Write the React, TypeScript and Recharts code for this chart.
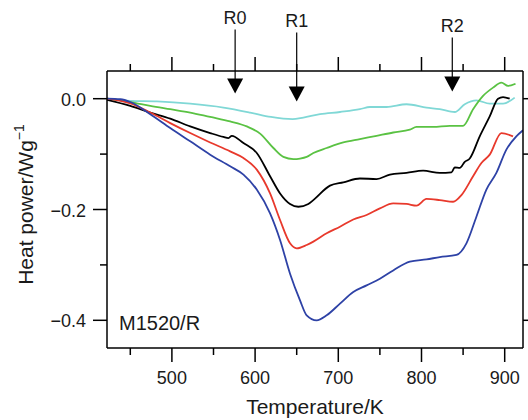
import React from 'react';
import { ComposedChart, Line, XAxis, YAxis, ReferenceDot, Label } from 'recharts';

const FONT = '"Liberation Sans", Arial, Helvetica, sans-serif';

// ---- axis ticks ----
const xTicks = [450, 500, 550, 600, 650, 700, 750, 800, 850, 900];
const xMajor = [500, 600, 700, 800, 900];
const yTicks = [-0.4, -0.3, -0.2, -0.1, 0];
const yMajor = [-0.4, -0.2, 0];

// ---- series (Temperature / K, Heat power / W g^-1) ----
const cyanT = [422, 450, 482, 522, 562, 594, 619, 645, 658, 678, 702, 726, 738, 758, 782, 806, 822, 840, 852, 866, 882, 898, 912];
const cyanV = [0, -0.004, -0.005, -0.009, -0.016, -0.025, -0.033, -0.037, -0.034, -0.028, -0.024, -0.019, -0.015, -0.015, -0.010, -0.016, -0.019, -0.024, -0.010, -0.003, -0.009, -0.009, 0.002];

const greenT = [422, 450, 474, 498, 522, 546, 570, 590, 606, 622, 634, 646, 654, 662, 670, 686, 706, 726, 746, 766, 786, 794, 814, 834, 850, 862, 874, 886, 896, 904, 913];
const greenV = [0, -0.006, -0.013, -0.019, -0.025, -0.033, -0.041, -0.050, -0.063, -0.089, -0.105, -0.109, -0.108, -0.105, -0.098, -0.089, -0.079, -0.073, -0.067, -0.061, -0.056, -0.051, -0.051, -0.049, -0.049, -0.019, 0.005, 0.020, 0.029, 0.023, 0.027];

const blackT = [422, 450, 474, 498, 522, 546, 562, 568, 572, 586, 602, 618, 630, 642, 652, 664, 670, 690, 706, 726, 746, 762, 782, 802, 822, 836, 840, 846, 852, 858, 870, 882, 892, 898, 906];
const blackV = [-0.002, -0.013, -0.025, -0.036, -0.050, -0.062, -0.069, -0.071, -0.067, -0.080, -0.098, -0.140, -0.171, -0.190, -0.195, -0.190, -0.183, -0.157, -0.151, -0.144, -0.145, -0.137, -0.134, -0.130, -0.134, -0.133, -0.124, -0.125, -0.114, -0.108, -0.068, -0.032, 0.0, 0.003, 0.0];

const redT = [422, 450, 474, 498, 522, 546, 570, 586, 602, 618, 630, 642, 650, 662, 670, 686, 702, 718, 734, 750, 766, 782, 794, 806, 822, 838, 848, 862, 872, 882, 896, 910];
const redV = [0, -0.0085, -0.025, -0.044, -0.062, -0.079, -0.095, -0.107, -0.128, -0.171, -0.219, -0.261, -0.270, -0.264, -0.258, -0.243, -0.231, -0.218, -0.210, -0.198, -0.189, -0.190, -0.193, -0.181, -0.183, -0.186, -0.174, -0.140, -0.116, -0.101, -0.062, -0.068];

const blueT = [422, 438, 450, 474, 498, 522, 546, 570, 586, 602, 618, 630, 642, 654, 662, 674, 686, 702, 718, 734, 750, 766, 786, 806, 822, 842, 854, 866, 878, 890, 902, 914, 922];
const blueV = [0, -0.001, -0.006, -0.028, -0.053, -0.077, -0.101, -0.122, -0.137, -0.164, -0.207, -0.255, -0.316, -0.364, -0.391, -0.400, -0.391, -0.370, -0.349, -0.337, -0.325, -0.310, -0.294, -0.290, -0.286, -0.282, -0.261, -0.213, -0.164, -0.134, -0.092, -0.068, -0.057];

// ---- annotations ----
const arrowNames = ['R0', 'R1', 'R2'];
const arrowT = [576, 650, 837];
const arrowTip = [0.0096, -0.0049, 0.0132];
const arrowLabelGap = [69, 74, 59];

const zip = (t: number[], v: number[]) => t.map((tt, i) => ({ t: tt, v: v[i] }));
const series = [
  { name: 'cyan', data: zip(cyanT, cyanV), color: '#80d8d6' },
  { name: 'green', data: zip(greenT, greenV), color: '#5ac243' },
  { name: 'black', data: zip(blackT, blackV), color: '#000000' },
  { name: 'red', data: zip(redT, redV), color: '#e8392c' },
  { name: 'blue', data: zip(blueT, blueV), color: '#2e42a6' },
];

const isMajor = (arr: number[], v: number) => arr.some((a) => Math.abs(a - v) < 1e-9);
const fmtY = (v: number) => (Math.abs(v) < 1e-9 ? '0.0' : '\u2212' + Math.abs(v).toFixed(1));
const TXT = '#1a1a1a';

const BottomTick = (p: any) => {
  const { x, y, payload } = p;
  const major = isMajor(xMajor, payload.value);
  return (
    <g>
      <line x1={x} x2={x} y1={y} y2={y + (major ? 14 : 7)} stroke="#000" strokeWidth={1.5} />
      {major && (
        <text x={x} y={y + 36} textAnchor="middle" fontSize={18} fontFamily={FONT} fill={TXT}>
          {payload.value}
        </text>
      )}
    </g>
  );
};

const TopTick = (p: any) => {
  const { x, y, payload } = p;
  const major = isMajor(xMajor, payload.value);
  return <line x1={x} x2={x} y1={y} y2={y - (major ? 14 : 7)} stroke="#000" strokeWidth={1.5} />;
};

const LeftTick = (p: any) => {
  const { x, y, payload } = p;
  const major = isMajor(yMajor, payload.value);
  return (
    <g>
      <line x1={x - (major ? 14 : 7)} x2={x} y1={y} y2={y} stroke="#000" strokeWidth={1.5} />
      {major && (
        <text x={x - 21} y={y + 7} textAnchor="end" fontSize={18} fontFamily={FONT} fill={TXT}>
          {fmtY(payload.value)}
        </text>
      )}
    </g>
  );
};

const RightTick = (p: any) => {
  const { x, y, payload } = p;
  const major = isMajor(yMajor, payload.value);
  return <line x1={x} x2={x + (major ? 14 : 7)} y1={y} y2={y} stroke="#000" strokeWidth={1.5} />;
};

const makeArrow = (i: number) => (p: any) => {
  const { cx, cy } = p;
  const labelY = cy - arrowLabelGap[i];
  return (
    <g>
      <text x={cx} y={labelY} textAnchor="middle" fontSize={18} fontFamily={FONT} fill={TXT}>
        {arrowNames[i]}
      </text>
      <line x1={cx} x2={cx} y1={labelY + 5} y2={cy - 14} stroke="#000" strokeWidth={1.2} />
      <polygon points={`${cx - 8},${cy - 15} ${cx + 8},${cy - 15} ${cx},${cy}`} fill="#000" />
    </g>
  );
};

const SampleLabel = (p: any) => (
  <text x={p.cx} y={p.cy} textAnchor="start" fontSize={20} fontFamily={FONT} fill={TXT}>
    M1520/R
  </text>
);

export default function App() {
  return (
    <div style={{ position: 'absolute', left: 0, top: 0, background: '#fff' }}>
      <ComposedChart width={528} height={420} margin={{ top: 0, right: 0, bottom: 0, left: 0 }}>
        <XAxis
          xAxisId="b"
          dataKey="t"
          type="number"
          domain={[422, 922]}
          allowDataOverflow
          ticks={xTicks}
          interval={0}
          height={72}
          tickSize={0}
          tickMargin={0}
          tickLine={false}
          axisLine={{ stroke: '#000', strokeWidth: 1.5 }}
          tick={<BottomTick />}
        >
          <Label
            content={(lp: any) => {
              const vb = lp.viewBox || { x: 107, y: 348, width: 416, height: 72 };
              return (
                <text x={vb.x + vb.width / 2} y={vb.y + 66} textAnchor="middle" fontSize={21} fontFamily={FONT} fill={TXT}>
                  Temperature/K
                </text>
              );
            }}
          />
        </XAxis>
        <XAxis
          xAxisId="top"
          orientation="top"
          dataKey="t"
          type="number"
          domain={[422, 922]}
          allowDataOverflow
          ticks={xTicks}
          interval={0}
          height={71}
          tickSize={0}
          tickMargin={0}
          tickLine={false}
          axisLine={{ stroke: '#000', strokeWidth: 1.5 }}
          tick={<TopTick />}
        />
        <YAxis
          yAxisId="l"
          type="number"
          domain={[-0.45, 0.05]}
          allowDataOverflow
          ticks={yTicks}
          interval={0}
          width={107}
          tickSize={0}
          tickMargin={0}
          tickLine={false}
          axisLine={{ stroke: '#000', strokeWidth: 1.5 }}
          tick={<LeftTick />}
        >
          <Label
            content={(lp: any) => {
              const vb = lp.viewBox || { x: 0, y: 71, width: 107, height: 277 };
              const x = vb.x + 33;
              const y = vb.y + vb.height / 2 - 5;
              return (
                <text x={x} y={y} transform={`rotate(-90 ${x} ${y})`} textAnchor="middle" fontSize={21} fontFamily={FONT} fill={TXT}>
                  Heat power/Wg
                  <tspan dy={-9} fontSize={14}>{'\u2212'}1</tspan>
                </text>
              );
            }}
          />
        </YAxis>
        <YAxis
          yAxisId="r"
          orientation="right"
          type="number"
          domain={[-0.45, 0.05]}
          allowDataOverflow
          ticks={yTicks}
          interval={0}
          width={5}
          tickSize={0}
          tickMargin={0}
          tickLine={false}
          axisLine={{ stroke: '#000', strokeWidth: 1.5 }}
          tick={<RightTick />}
        />
        {series.map((s) => (
          <Line
            key={s.name}
            xAxisId="b"
            yAxisId="l"
            data={s.data}
            dataKey="v"
            type="monotone"
            stroke={s.color}
            strokeWidth={1.8}
            dot={false}
            activeDot={false}
            isAnimationActive={false}
          />
        ))}
        {arrowNames.map((n, i) => (
          <ReferenceDot
            key={n}
            xAxisId="b"
            yAxisId="l"
            x={arrowT[i]}
            y={arrowTip[i]}
            r={0}
            ifOverflow="visible"
            shape={makeArrow(i)}
          />
        ))}
        <ReferenceDot xAxisId="b" yAxisId="l" x={436.4} y={-0.4183} r={0} ifOverflow="visible" shape={SampleLabel} />
      </ComposedChart>
    </div>
  );
}
